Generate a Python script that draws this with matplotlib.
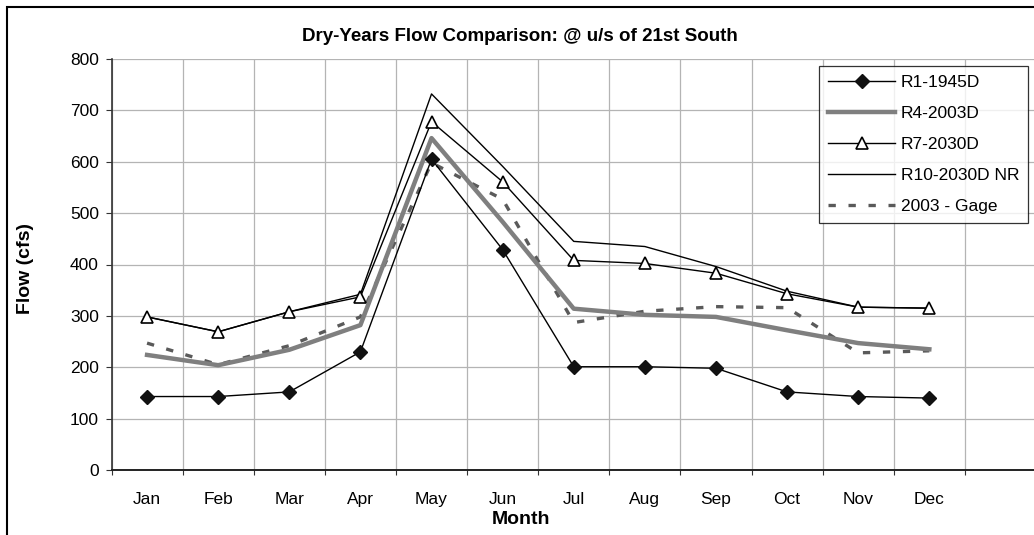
import matplotlib
matplotlib.use("Agg")
import matplotlib.pyplot as plt
from matplotlib.patches import Rectangle

plt.rcParams['font.family'] = ['Liberation Sans', 'DejaVu Sans']

months = ['Jan', 'Feb', 'Mar', 'Apr', 'May', 'Jun',
          'Jul', 'Aug', 'Sep', 'Oct', 'Nov', 'Dec']

# monthly flows (cfs)
r1_1945d = [143, 143, 152, 230, 605, 429, 201, 201, 198, 152, 143, 140]
r4_2003d = [224, 204, 234, 282, 646, 483, 314, 302, 298, 272, 247, 235]
r7_2030d = [298, 269, 308, 337, 678, 561, 408, 402, 383, 343, 317, 315]
r10_2030d_nr = [298, 269, 308, 342, 732, 591, 445, 435, 396, 348, 317, 315]
gage_2003 = [247, 205, 242, 298, 598, 527, 287, 309, 318, 316, 228, 232]

W, H = 1034, 535
fig = plt.figure(figsize=(W / 100, H / 100), dpi=100)
ax = fig.add_axes([111.5 / W, 1 - 470 / H, (1036 - 111.5) / W, (470 - 59) / H])

x = list(range(len(months)))

ax.plot(x, r1_1945d, color='black', lw=1.0, marker='D', ms=7,
        mfc='#111111', mec='#111111', label='R1-1945D', zorder=5)
ax.plot(x, r4_2003d, color='#7f7f7f', lw=3.2, label='R4-2003D', zorder=3)
ax.plot(x, r7_2030d, color='black', lw=1.0, marker='^', ms=8,
        mfc='white', mec='black', mew=1.2, label='R7-2030D', zorder=6)
ax.plot(x, r10_2030d_nr, color='black', lw=1.0, label='R10-2030D NR', zorder=4)
ax.plot(x, gage_2003, color='#5a5a5a', lw=2.4, dashes=(2.2, 3.8),
        dash_capstyle='butt', label='2003 - Gage', zorder=2)

ax.set_xlim(-0.5, 12.5)
ax.set_ylim(0, 800)
ax.set_yticks(range(0, 801, 100))

# category boundaries carry the ticks and grid, labels sit in between
ax.set_xticks([i - 0.5 for i in range(14)])
ax.set_xticklabels([])
ax.set_xticks(x, minor=True)
ax.set_xticklabels(months, minor=True)
ax.tick_params(axis='x', which='major', direction='out', length=3.5,
               width=0.8, color='#333333')
ax.tick_params(axis='x', which='minor', length=0, pad=16, labelsize=12.5)
ax.tick_params(axis='y', direction='out', length=4, width=0.8,
               color='#333333', pad=5, labelsize=12.5)

ax.grid(True, which='major', color='#b4b4b4', lw=0.9)
ax.set_axisbelow(True)
for side in ['top', 'right']:
    ax.spines[side].set_visible(False)
ax.spines['left'].set_color('#333333')
ax.spines['bottom'].set_color('#222222')
ax.spines['left'].set_linewidth(1.2)
ax.spines['bottom'].set_linewidth(1.4)

fig.text(520 / W, 1 - 37 / H, 'Dry-Years Flow Comparison: @ u/s of 21st South',
         ha='center', va='center', fontsize=13.5, fontweight='bold')
fig.text(521 / W, 1 - 520 / H, 'Month', ha='center', va='center',
         fontsize=14, fontweight='bold')
fig.text(26 / W, 1 - 269 / H, 'Flow (cfs)', ha='center', va='center',
         rotation=90, fontsize=14, fontweight='bold')

leg = ax.legend(loc='upper left', bbox_to_anchor=(819 / W, 1 - 66 / H),
                bbox_transform=fig.transFigure, fontsize=12.5,
                frameon=True, fancybox=False, shadow=False,
                handlelength=3.9, handletextpad=0.3, labelspacing=0.92,
                borderpad=0.5, borderaxespad=0)
leg.get_frame().set_edgecolor('black')
leg.get_frame().set_linewidth(0.9)

# outer chart frame, only the top and left edges fall inside the image
fig.add_artist(Rectangle((7 / W, -0.1), 1.2, 1.1 - 7 / H,
                         transform=fig.transFigure, fill=False,
                         edgecolor='black', lw=1.5))

fig.savefig('out.png', dpi=100)
